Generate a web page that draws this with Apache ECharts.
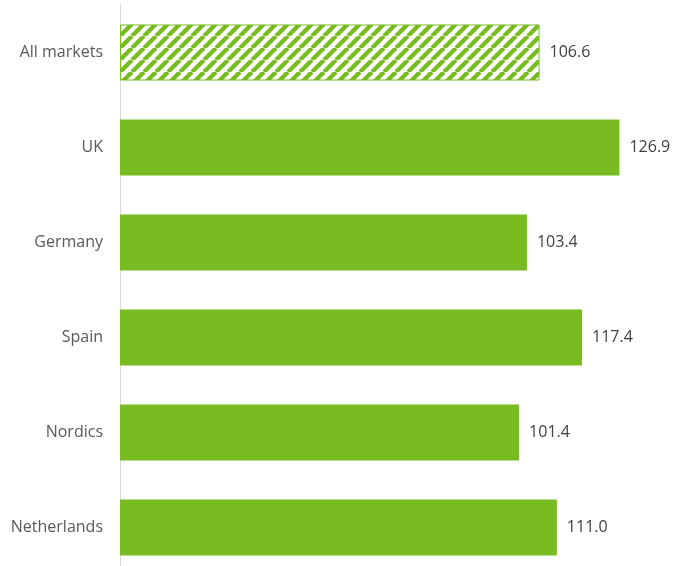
<!DOCTYPE html>
<html>
<head>
<meta charset="utf-8">
<style>
  html, body { margin: 0; padding: 0; background: #ffffff; }
  #chart { width: 689px; height: 566px; }
</style>
<script src="https://cdn.jsdelivr.net/npm/echarts@6/dist/echarts.min.js"></script>
</head>
<body>
<div id="chart"></div>
<script>
// Market categories, top to bottom
const markets = ['All markets', 'UK', 'Germany', 'Spain', 'Nordics', 'Netherlands'];
// Index values per market
const indexValues = [106.6, 126.9, 103.4, 117.4, 101.4, 111.0];

const GREEN = '#79bc21';

// Diagonal hatch tile for the aggregate bar
function hatchTile() {
  const size = 12;
  const c = document.createElement('canvas');
  c.width = size; c.height = size;
  const ctx = c.getContext('2d');
  ctx.fillStyle = '#ffffff';
  ctx.fillRect(0, 0, size, size);
  ctx.strokeStyle = GREEN;
  ctx.lineWidth = 4.4;
  for (let k = -1; k <= 1; k++) {
    ctx.beginPath();
    ctx.moveTo(k * size, size);
    ctx.lineTo(k * size + size, 0);
    ctx.stroke();
  }
  return c;
}

const barData = indexValues.map((v, i) => {
  if (i === 0) {
    return {
      value: v,
      itemStyle: {
        color: { image: hatchTile(), repeat: 'repeat' },
        borderColor: GREEN,
        borderWidth: 1
      }
    };
  }
  return { value: v };
});

const chart = echarts.init(document.getElementById('chart'), null, { renderer: 'canvas' });
chart.setOption({
  animation: false,
  backgroundColor: '#ffffff',
  grid: {
    left: 120, right: 18, top: 5, height: 570,
    containLabel: false,
    outerBoundsMode: 'none'
  },
  xAxis: {
    type: 'value',
    min: 0,
    max: 140,
    show: false,
    splitLine: { show: false }
  },
  yAxis: {
    type: 'category',
    data: markets,
    inverse: true,
    axisLine: { show: true, lineStyle: { color: '#d9d9d9', width: 1 } },
    axisTick: { show: false },
    axisLabel: {
      margin: 17,
      color: '#595959',
      fontSize: 16,
      fontFamily: '"Open Sans", sans-serif'
    }
  },
  series: [{
    type: 'bar',
    data: barData,
    barCategoryGap: '41%',
    itemStyle: { color: GREEN },
    label: {
      show: true,
      position: 'right',
      distance: 10,
      color: '#404040',
      fontSize: 16,
      fontFamily: '"Open Sans", sans-serif',
      formatter: p => p.value.toFixed(1)
    }
  }]
});
</script>
</body>
</html>
